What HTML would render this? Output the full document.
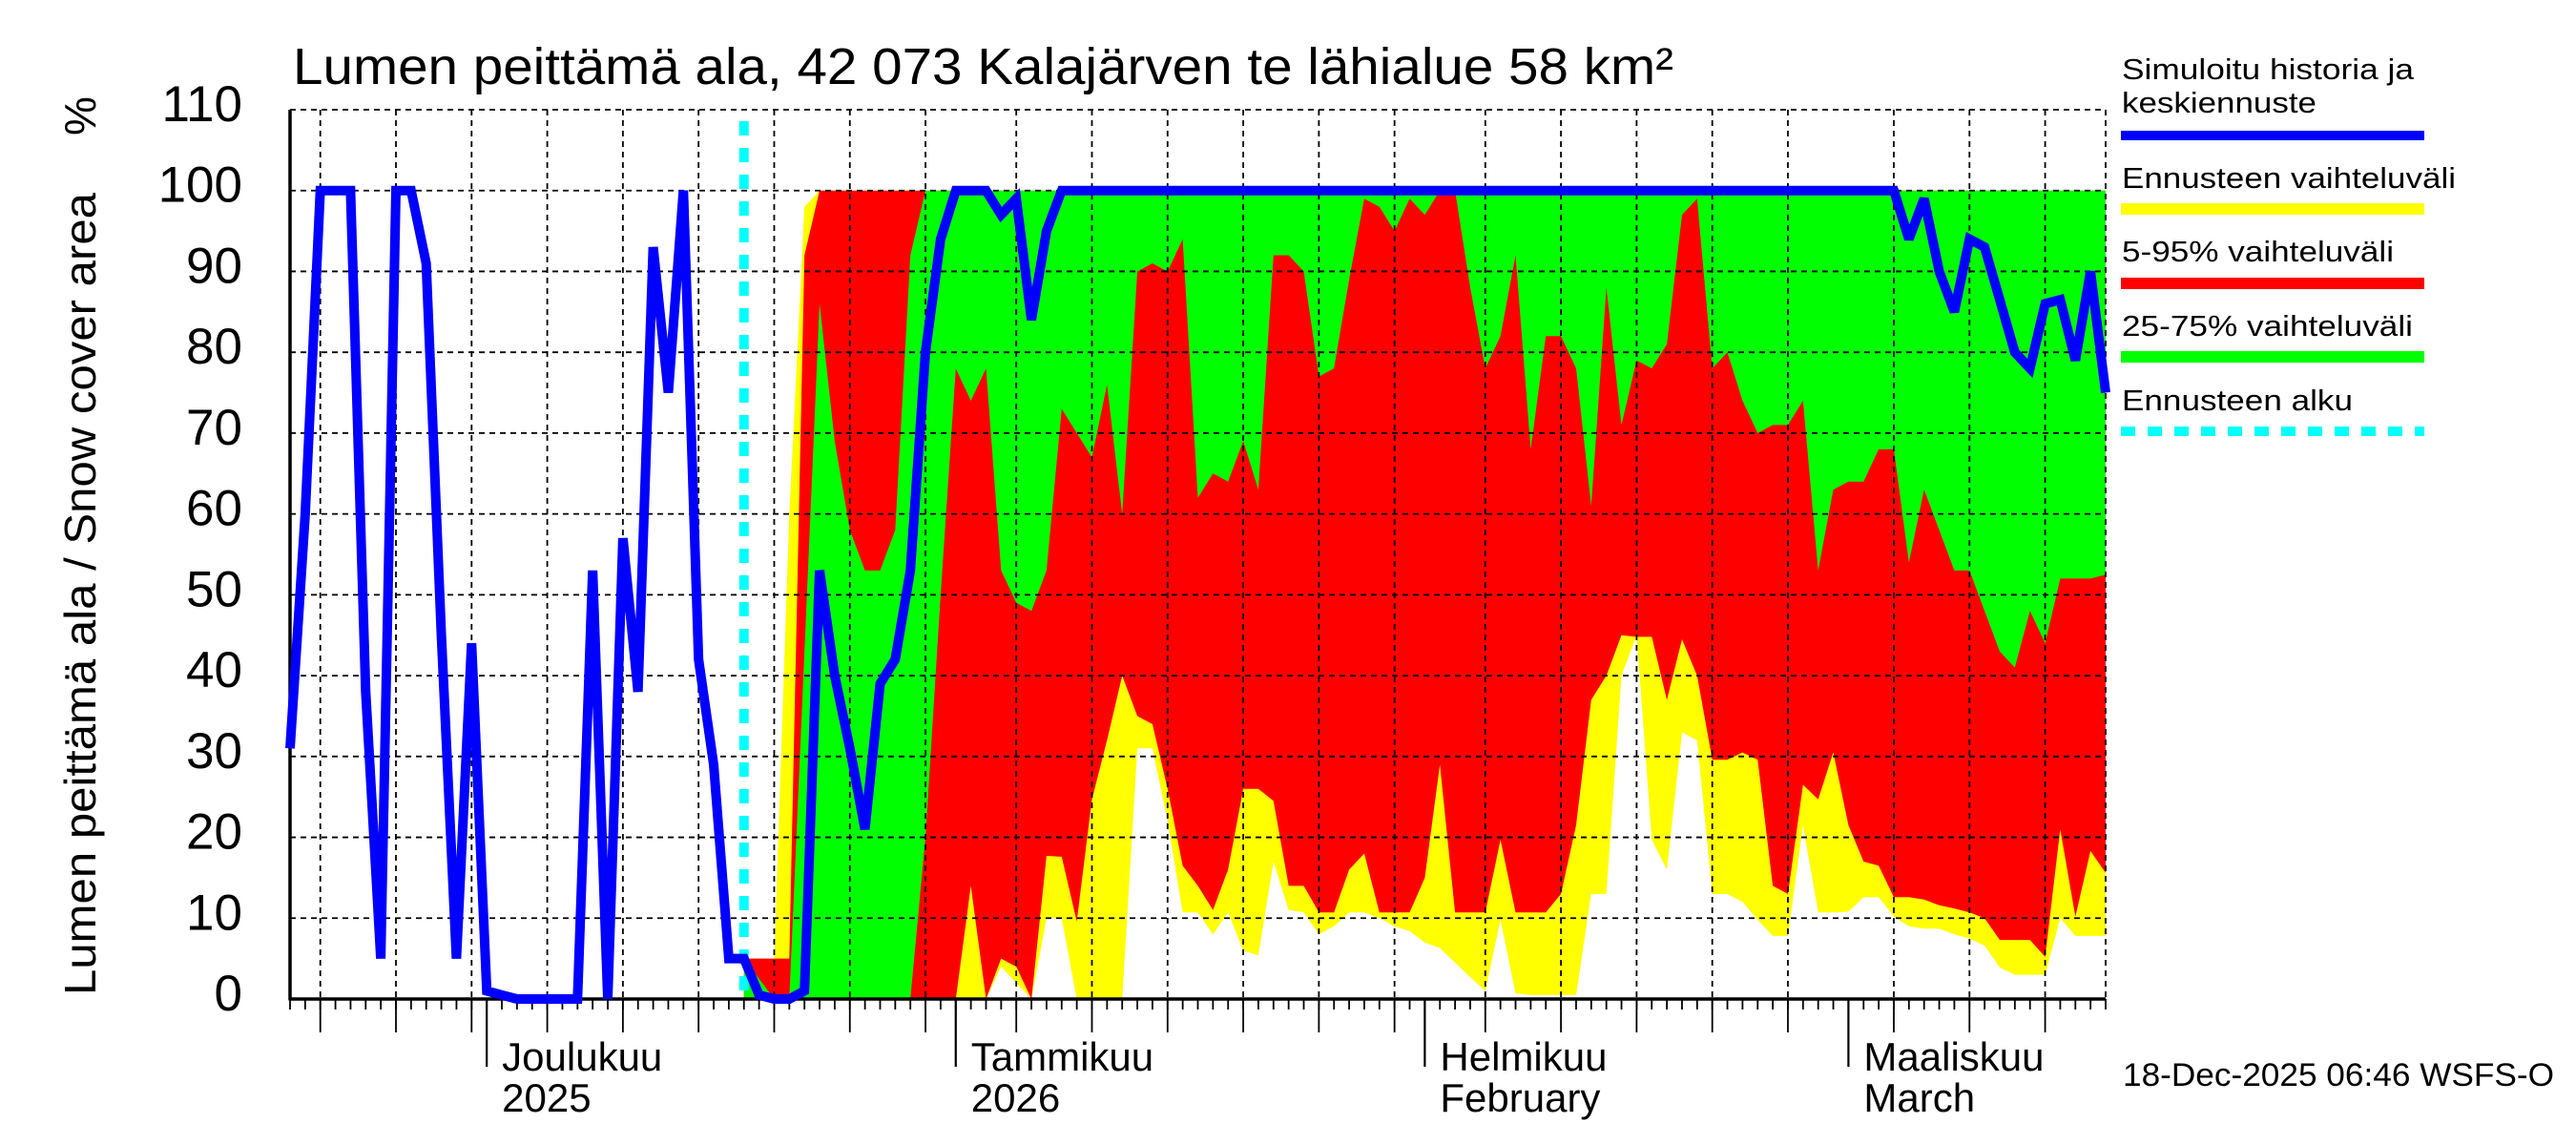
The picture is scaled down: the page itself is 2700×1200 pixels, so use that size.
<!DOCTYPE html>
<html><head><meta charset="utf-8"><style>
html,body{margin:0;padding:0;background:#fff;}
svg{display:block;font-family:"Liberation Sans",sans-serif;}
</style></head><body>
<svg id="chart" width="2700" height="1200" viewBox="0 0 2700 1200" xmlns="http://www.w3.org/2000/svg">
<text x="307" y="88" font-size="54" textLength="1447" lengthAdjust="spacingAndGlyphs">Lumen peittämä ala, 42 073 Kalajärven te lähialue 58 km²</text>
<text transform="translate(100,1043) rotate(-90)" font-size="46" textLength="841" lengthAdjust="spacingAndGlyphs">Lumen peittämä ala / Snow cover area</text>
<text transform="translate(100,142) rotate(-90)" font-size="46">%</text>
<g id="bands"></g>
<g id="grid"></g>
<g id="axes"></g>
<g id="series"></g>
<g id="legend">
<text x="2224" y="83" font-size="31" textLength="306" lengthAdjust="spacingAndGlyphs">Simuloitu historia ja</text>
<text x="2224" y="118" font-size="31" textLength="204" lengthAdjust="spacingAndGlyphs">keskiennuste</text>
<rect x="2223" y="137" width="318" height="10" fill="#0000ff"/>
<text x="2224" y="197" font-size="31" textLength="350" lengthAdjust="spacingAndGlyphs">Ennusteen vaihteluväli</text>
<rect x="2223" y="213" width="318" height="12" fill="#ffff00"/>
<text x="2224" y="274" font-size="31" textLength="285" lengthAdjust="spacingAndGlyphs">5-95% vaihteluväli</text>
<rect x="2223" y="291" width="318" height="12" fill="#ff0000"/>
<text x="2224" y="352" font-size="31" textLength="305" lengthAdjust="spacingAndGlyphs">25-75% vaihteluväli</text>
<rect x="2223" y="368" width="318" height="12" fill="#00ff00"/>
<text x="2224" y="430" font-size="31" textLength="242" lengthAdjust="spacingAndGlyphs">Ennusteen alku</text>
<line x1="2223" y1="452" x2="2541" y2="452" stroke="#00ffff" stroke-width="10" stroke-dasharray="15 13"/>
</g>
<text x="2225" y="1138" font-size="34" textLength="452" lengthAdjust="spacingAndGlyphs">18-Dec-2025 06:46 WSFS-O</text>
</svg>
<script>
// Day 0 = 18 Nov 2025, day 120 = 18 Mar 2026
const blueValues = [31,60,100,100,100,38,5,100,100,91,
45,5,44,1,0.5,0,0,0,0,0,
53,0,57,38,93,75,100,42,29,5,
5,0.5,0,0,1,53,40,31,21,39,
42,53,80,94,100,100,100,97,99,84,
95,100,100,100,100,100,100,100,100,100,
100,100,100,100,100,100,100,100,100,100,
100,100,100,100,100,100,100,100,100,100,
100,100,100,100,100,100,100,100,100,100,
100,100,100,100,100,100,100,100,100,100,
100,100,100,100,100,100,100,94,99,90,
85,94,93,86.5,80,78,86,86.5,79,90,75];
const bandStartDay = 30;
const yellowMax = [5,5,5,60,98,100,100,100,100,100,
100,100,100,100,100,100,100,100,100,100,
100,100,100,100,100,100,100,100,100,100,
100,100,100,100,100,100,100,100,100,100,
100,100,100,100,100,100,100,100,100,100,
100,100,100,100,100,100,100,100,100,100,
100,100,100,100,100,100,100,100,100,100,
100,100,100,100,100,100,100,100,100,100,
100,100,100,100,100,100,100,100,100,100,100];
const redMax = [5,5,5,5,92,100,100,100,100,100,
100,100,100,100,100,100,100,100,100,100,
100,100,100,100,100,100,100,100,100,100,
100,100,100,100,100,100,100,100,100,100,
100,100,100,100,100,100,100,100,100,100,
100,100,100,100,100,100,100,100,100,100,
100,100,100,100,100,100,100,100,100,100,
100,100,100,100,100,100,100,100,100,100,
100,100,100,100,100,100,100,100,100,100,100];
const greenMax = [5,2.5,0,0,43,86,69,58,53,53,
58,92,100,100,100,100,100,100,100,100,
100,100,100,100,100,100,100,100,100,100,
100,100,100,100,100,100,100,100,100,100,
100,100,100,100,100,100,100,100,100,100,
100,100,100,100,100,100,100,100,100,100,
100,100,100,100,100,100,100,100,100,100,
100,100,100,100,100,100,100,100,100,100,
100,100,100,100,100,100,100,100,100,100,100];
const greenMin = [0,0,0,0,0,0,0,0,0,0,
0,0,20,50,78,74,78,53,49,48,
53,73,70,67,76,60,90,91,90,94,
62,65,64,69,63,92,92,90,77,78,
89,99,98,95,99,97,100,100,88,78,
82,92,68,82,82,78,61,88,71,79,
78,81,97,99,78,80,74,70,71,71,
74,53,63,64,64,68,68,54,63,58,
53,53,48,43,41,48,44,52,52,52,52.5];
const redMin = [0,0,0,0,0,0,0,0,0,0,
0,0,0,0,0,14,0,5,4,0,
17.7,17.6,9.6,24.7,32,40,35,34,26,16.5,
14,11,16,26,26,24.5,14,14,10.7,10.7,
16,18,10.7,10.7,10.7,15,29,10.7,10.7,10.7,
19.7,10.7,10.7,10.7,13,21.5,37,40,45,44.8,
44.8,37,44.5,40,29.6,29.6,30.5,29.6,14,13,
26.5,24.7,30.5,21.5,17,16.5,12.6,12.6,12.3,11.6,
11.2,10.7,10,7.3,7.3,7.3,5.2,21,10.2,18.3,15.6];
const yellowMin = [0,0,0,0,0,0,0,0,0,0,
0,0,0,0,0,0,0,4,2,0,
10,10,0,0,0,0,31,31,22,10.7,
10.7,8,10.7,6,5.4,17,11,10.7,8,9,
10.7,10.7,10,9,8.4,7,6.3,4.5,2.7,1,
9.8,0.7,0.5,0.5,0.5,0.5,13,13,40,45,
19.7,16,33,32,13,13,12,9.8,7.8,7.8,
21.5,10.7,10.7,10.8,12.6,12.6,10.2,9,8.7,8.7,
8,7.5,6.6,3.9,3,3,3,10,7.8,7.8,7.8];
const yTicks = [0,10,20,30,40,50,60,70,80,90,100,110];
const forecastStartDay = 30;
const monthTicks = [{day:13,l1:"Joulukuu",l2:"2025"},{day:44,l1:"Tammikuu",l2:"2026"},{day:75,l1:"Helmikuu",l2:"February"},{day:103,l1:"Maaliskuu",l2:"March"}];
const gridDays = [2,7,12,17,22,27,32,37,42,48,53,58,63,68,73,79,84,89,94,99,106,111,116];

const X0=304, X1=2207, Y0=1047, Y1=115, NDAYS=120, VMAX=110;
const NS='http://www.w3.org/2000/svg';
function x(d){return X0+(X1-X0)*d/NDAYS;}
function y(v){return Y0-(Y0-Y1)*v/VMAX;}
function mk(tag,attrs,parent){const e=document.createElementNS(NS,tag);for(const k in attrs)e.setAttribute(k,attrs[k]);parent.appendChild(e);return e;}

const bands=document.getElementById('bands');
function band(lo,hi,color,name){
  let pts=[];
  for(let i=0;i<hi.length;i++)pts.push(x(bandStartDay+i).toFixed(1)+','+y(hi[i]).toFixed(1));
  for(let i=lo.length-1;i>=0;i--)pts.push(x(bandStartDay+i).toFixed(1)+','+y(lo[i]).toFixed(1));
  const p=mk('polygon',{points:pts.join(' '),fill:color},bands);
  
  
}
band(yellowMin,yellowMax,'#ffff00','band-full-range');
band(redMin,redMax,'#ff0000','band-5-95');
band(greenMin,greenMax,'#00ff00','band-25-75');

const grid=document.getElementById('grid');
yTicks.forEach(v=>{
  if(v===0)return;
  const l=mk('line',{x1:X0,x2:X1,y1:y(v),y2:y(v),stroke:'#000','stroke-width':1.8,'stroke-dasharray':'6 5'},grid);
  
  
});
gridDays.forEach(d=>{
  const l=mk('line',{x1:x(d),x2:x(d),y1:Y1,y2:Y0,stroke:'#000','stroke-width':1.8,'stroke-dasharray':'6 5'},grid);
  
  
});
const rb=mk('line',{x1:X1,x2:X1,y1:Y1,y2:Y0,stroke:'#000','stroke-width':1.8,'stroke-dasharray':'6 5'},grid);



const axes=document.getElementById('axes');
for(let d=0;d<=NDAYS;d++){
  const t=mk('line',{x1:x(d),x2:x(d),y1:Y0,y2:1058,stroke:'#000','stroke-width':1.8},axes);
  
  
}
gridDays.forEach(d=>{
  const t=mk('line',{x1:x(d),x2:x(d),y1:Y0,y2:1082,stroke:'#000','stroke-width':1.8},axes);
  
  
});
monthTicks.forEach(m=>{
  const t=mk('line',{x1:x(m.day),x2:x(m.day),y1:Y0,y2:1118,stroke:'#000','stroke-width':2.2},axes);
  
  
  const a=mk('text',{x:x(m.day)+16,y:1122,'font-size':42},axes);
  a.textContent=m.l1;
  
  
  const b=mk('text',{x:x(m.day)+16,y:1165,'font-size':42},axes);
  b.textContent=m.l2;
  
  
});
yTicks.forEach(v=>{
  const t=mk('text',{x:254,y:y(v)+12,'font-size':53,'text-anchor':'end'},axes);
  t.textContent=String(v);
  
  
});
const la=mk('line',{x1:X0,x2:X0,y1:Y1,y2:Y0+1.5,stroke:'#000','stroke-width':3.5},axes);


const ba=mk('line',{x1:X0,x2:X1,y1:Y0,y2:Y0,stroke:'#000','stroke-width':3.5},axes);



const series=document.getElementById('series');
const fc=mk('line',{x1:x(forecastStartDay),x2:x(forecastStartDay),y1:Y1+12,y2:Y0,stroke:'#00ffff','stroke-width':10,'stroke-dasharray':'15 13'},series);


const bp=blueValues.map((v,i)=>x(i).toFixed(1)+','+y(v).toFixed(1)).join(' ');
const bl=mk('polyline',{points:bp,fill:'none',stroke:'#0000ff','stroke-width':10,'stroke-linejoin':'miter','stroke-miterlimit':3},series);


</script>
</body></html>
